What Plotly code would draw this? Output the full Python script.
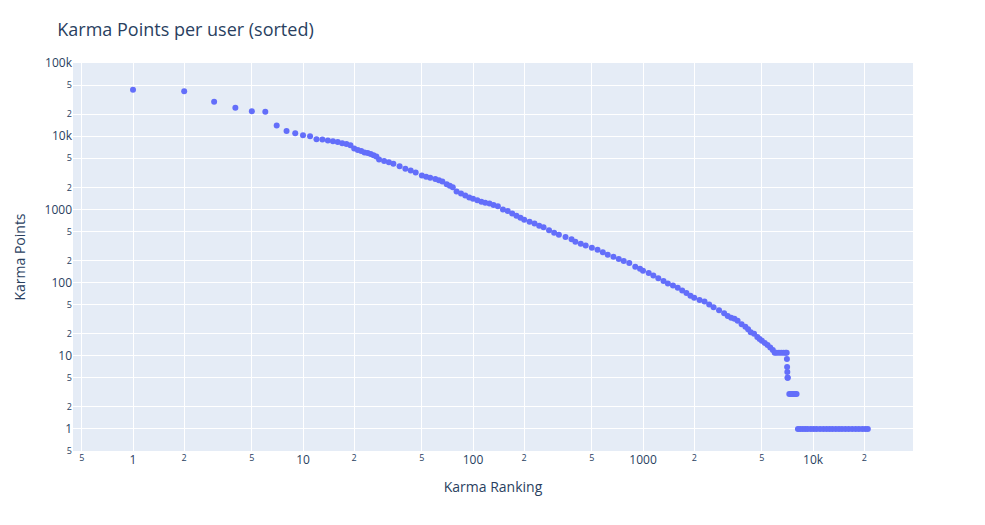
import plotly.graph_objects as go

# karma ranking (x) and karma points (y)
ranks = [1, 2, 3, 4, 5, 6, 7, 8, 9, 10, 11, 12, 13, 14, 15, 16, 17, 18, 19, 20,
         21, 22, 23, 24, 25, 26, 27, 28, 30, 32, 34, 37, 40, 43, 46, 50, 53, 56,
         60, 63, 66, 70, 73, 76, 80, 85, 90, 95, 100, 106, 112, 118, 125, 132,
         140, 150, 160, 170, 180, 190, 200, 215, 230, 245, 260, 280, 300, 320,
         350, 380, 400, 430, 460, 500, 540, 580, 620, 670, 720, 770, 830, 900,
         960, 1000, 1080, 1150, 1230, 1320, 1400, 1500, 1600, 1700, 1800, 1900,
         2000, 2150, 2300, 2450, 2600, 2800, 3000, 3150, 3300, 3450, 3600, 3800,
         4000, 4150, 4300, 4500, 4700, 4850, 5000, 5200, 5400, 5600, 5800, 5950,
         6100, 6300, 6500, 6700, 6900, 7000, 7020, 7040, 7060, 7080, 7100, 7250,
         7400, 7550, 7700, 7850, 8000, 8150, 8400, 8700, 9000, 9300, 9700, 10100,
         10500, 11000, 11500, 12000, 12500, 13000, 13600, 14200, 14800, 15500,
         16200, 17000, 17800, 18600, 19500, 20300, 21000]
karma = [43000, 41000, 29500, 24500, 22000, 21500, 14000, 11800, 11000, 10300,
         10000, 9100, 9000, 8700, 8500, 8300, 8000, 7800, 7500, 6800,
         6500, 6300, 6000, 5900, 5700, 5500, 5300, 4800, 4600, 4400, 4200, 3900,
         3600, 3400, 3200, 2900, 2800, 2700, 2600, 2500, 2400, 2200, 2100, 2000,
         1750, 1650, 1550, 1450, 1400, 1330, 1270, 1230, 1200, 1150,
         1100, 1000, 950, 880, 820, 770, 720, 680, 640, 600, 570, 520, 480, 450,
         420, 390, 360, 340, 320, 300, 280, 260, 240, 225, 210, 197, 185, 165,
         155, 145, 135, 125, 115, 105, 97, 91, 85, 78, 72, 66,
         62, 58, 55, 50, 46, 42, 38, 35, 33, 32, 30, 27,
         25, 23, 21, 20, 18, 17, 16, 15, 14, 13, 12, 11,
         11, 11, 11, 11, 11, 11, 9, 7, 6, 5, 5, 3,
         3, 3, 3, 3, 3, 1, 1, 1, 1, 1, 1, 1,
         1, 1, 1, 1, 1, 1, 1, 1, 1, 1,
         1, 1, 1, 1, 1, 1, 1]

fig = go.Figure(go.Scatter(x=ranks, y=karma, mode="markers",
                           marker=dict(color="#636efa", size=6)))

fig.update_layout(
    width=985, height=525,
    title=dict(text="Karma Points per user (sorted)", x=0.05, font=dict(size=18)),
    plot_bgcolor="#e5ecf6", paper_bgcolor="white",
    margin=dict(l=65, r=80, t=55, b=82),
    xaxis=dict(type="log", title="Karma Ranking", range=[-0.353, 4.588],
               gridcolor="white", dtick="D2", showline=False, zeroline=False),
    yaxis=dict(type="log", title="Karma Points", range=[-0.301, 5],
               gridcolor="white", dtick="D2", zeroline=False),
    font=dict(color="#2a3f5f"),
    showlegend=False,
)

fig.write_html("out.html")
